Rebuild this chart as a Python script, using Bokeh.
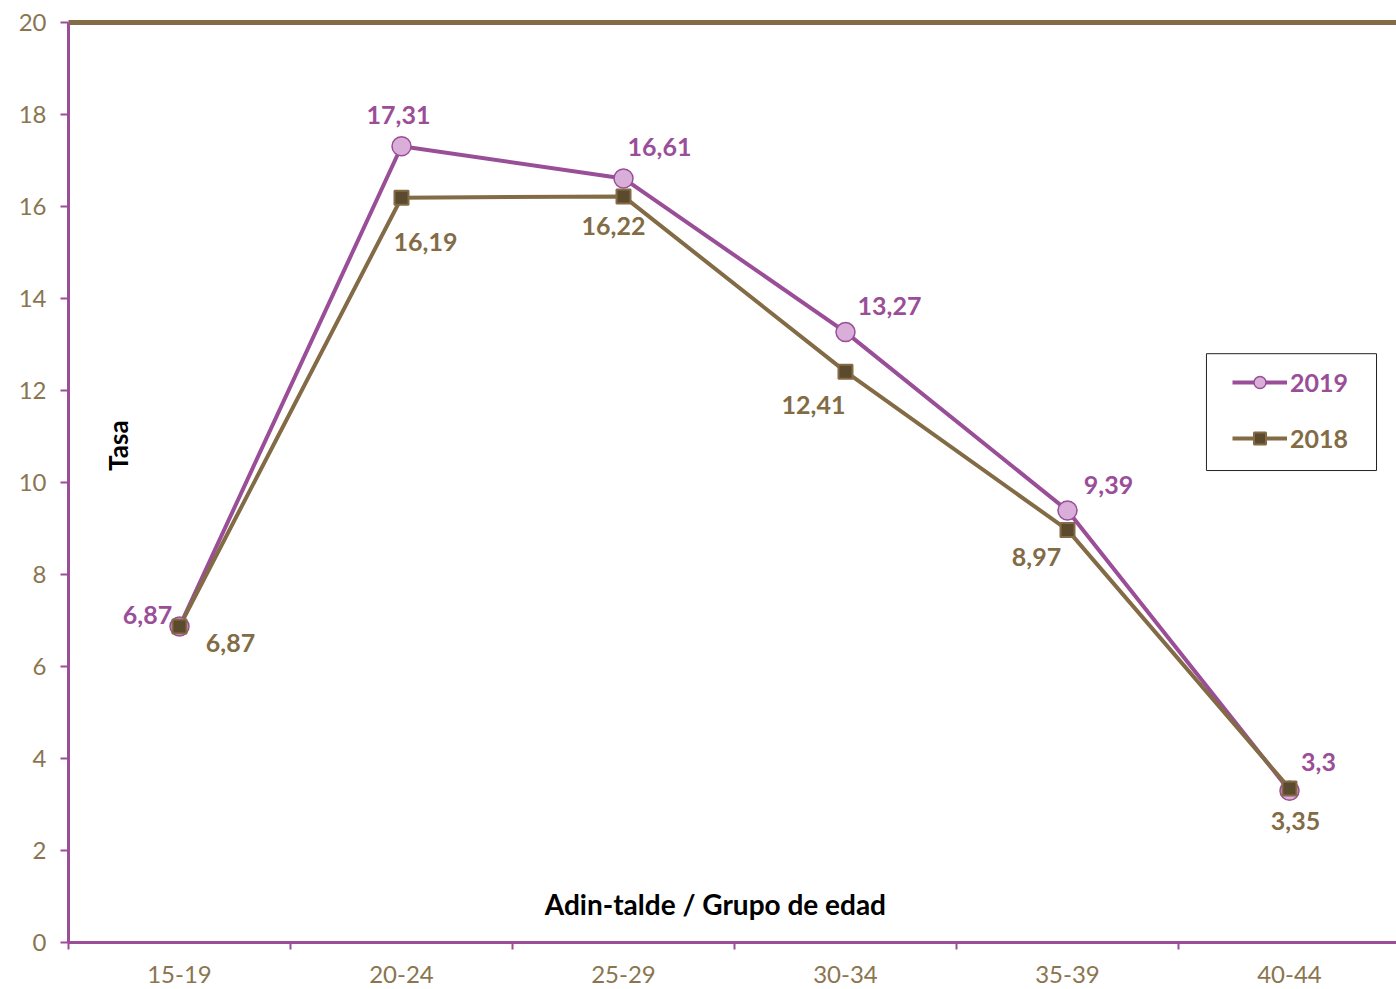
from bokeh.plotting import figure
from bokeh.models import (ColumnDataSource, Range1d, FixedTicker, Legend, LegendItem,
                          Label, LinearAxis, BoxAnnotation)
from bokeh.core.properties import value
from bokeh.embed import file_html
from bokeh.resources import INLINE

# ---- data ----
categories = ["15-19", "20-24", "25-29", "30-34", "35-39", "40-44"]
vals_2019 = [6.87, 17.31, 16.61, 13.27, 9.39, 3.3]
vals_2018 = [6.87, 16.19, 16.22, 12.41, 8.97, 3.35]
y_ticks = [0, 2, 4, 6, 8, 10, 12, 14, 16, 18, 20]

# ---- styles ----
PURPLE = "#9A4E98"
PINK = "#D9AED9"
BROWN = "#826B45"
DARK = "#5C4A2E"
TICKC = "#8A7550"
FONT = "Lato"

# label offsets (screen px) per point
off19_x = [-32, -3, 36, 44, 41, 29]
off19_y = [-11, -31, -31, -26, -26, -29]
off18_x = [51, 24, -10, -32, -31, 6]
off18_y = [17, 44, 30, 33, 27, 33]

def fmt(v):
    return f"{v:g}".replace(".", ",")

xs = list(range(len(categories)))
src19 = ColumnDataSource(dict(x=xs, y=vals_2019, t=[fmt(v) for v in vals_2019],
                              ox=off19_x, oy=off19_y))
src18 = ColumnDataSource(dict(x=xs, y=vals_2018, t=[fmt(v) for v in vals_2018],
                              ox=off18_x, oy=off18_y))

p = figure(width=1396, height=989, output_backend="svg", toolbar_location=None,
           x_range=Range1d(-0.5, 5.482), y_range=Range1d(0, 20),
           min_border_left=68, min_border_right=0, min_border_top=22,
           min_border_bottom=47)
p.outline_line_color = None
p.grid.visible = False
p.background_fill_color = "white"

# axes
p.xaxis.ticker = FixedTicker(ticks=xs, minor_ticks=[i - 0.5 for i in range(len(categories) + 1)])
p.xaxis.major_label_overrides = {i: c for i, c in enumerate(categories)}
p.yaxis.ticker = FixedTicker(ticks=y_ticks)
for ax in (p.xaxis, p.yaxis):
    ax.axis_line_color = PURPLE
    ax.axis_line_width = 3
    ax.major_label_text_color = TICKC
    ax.major_label_text_font = FONT
    ax.major_label_text_font_size = "24px"
    ax.major_tick_line_color = PURPLE
    ax.major_tick_line_width = 2
    ax.minor_tick_line_color = PURPLE
    ax.minor_tick_line_width = 2
p.xaxis.major_tick_out = 0
p.xaxis.major_tick_in = 0
p.xaxis.minor_tick_out = 7
p.xaxis.minor_tick_in = 0
p.xaxis.major_label_standoff = 16
p.yaxis.major_tick_out = 8
p.yaxis.major_tick_in = 0
p.yaxis.minor_tick_out = 0
p.yaxis.minor_tick_in = 0
p.yaxis.major_label_standoff = 14

# top border as an axis line
top = LinearAxis(ticker=FixedTicker(ticks=[]), axis_line_color=BROWN, axis_line_width=5,
                 major_tick_line_color=None, minor_tick_line_color=None,
                 major_label_text_font_size="0px")
p.add_layout(top, "above")

# series
l19 = p.line("x", "y", source=src19, line_color=PURPLE, line_width=4)
l18 = p.line("x", "y", source=src18, line_color=BROWN, line_width=4)
m19 = p.scatter("x", "y", source=src19, marker="circle", size=19,
                fill_color=PINK, line_color=PURPLE, line_width=1.5)
m18 = p.scatter("x", "y", source=src18, marker="square", size=14,
                fill_color=DARK, line_color=BROWN, line_width=2)

p.text("x", "y", text="t", source=src19, x_offset="ox", y_offset="oy",
       text_color=PURPLE, text_font=value(FONT), text_font_style="bold",
       text_font_size="25px", text_align="center", text_baseline="middle")
p.text("x", "y", text="t", source=src18, x_offset="ox", y_offset="oy",
       text_color=BROWN, text_font=value(FONT), text_font_style="bold",
       text_font_size="25px", text_align="center", text_baseline="middle")

# axis titles inside plot
p.add_layout(Label(x=-0.275, y=10.8, text="Tasa", angle=1.5708, angle_units="rad",
                   text_font=FONT, text_font_style="bold", text_font_size="26px",
                   text_color="black", text_align="center", text_baseline="middle"))
p.add_layout(Label(x=2.414, y=0.83, text="Adin-talde / Grupo de edad",
                   text_font=FONT, text_font_style="bold", text_font_size="28px",
                   text_color="black", text_align="center", text_baseline="middle"))

# legend box
p.add_layout(BoxAnnotation(left=4.626, right=5.392, bottom=10.26, top=12.80,
                           fill_color="white", fill_alpha=1, line_color="#222222",
                           line_alpha=1, line_width=1, level="overlay"))

ROWH, SP = 30, 26
common = dict(padding=0, margin=0, glyph_width=55, glyph_height=ROWH,
              label_height=ROWH, label_standoff=3, label_text_font=FONT,
              label_text_font_style="bold", label_text_font_size="25px",
              border_line_color=None)
leg1 = Legend(items=[LegendItem(label="2019", renderers=[l19, m19]),
                     LegendItem(label="2018", renderers=[l18, m18])],
              location=(1164, 489), spacing=SP, label_text_color=PURPLE,
              background_fill_alpha=0, **common)
leg2 = Legend(items=[LegendItem(label="2018", renderers=[l18, m18])],
              location=(1164, 489), spacing=0, label_text_color=BROWN,
              background_fill_color="white", background_fill_alpha=1, **common)
p.add_layout(leg1, "center")
p.add_layout(leg2, "center")

open("out.html", "w").write(file_html(p, INLINE))
